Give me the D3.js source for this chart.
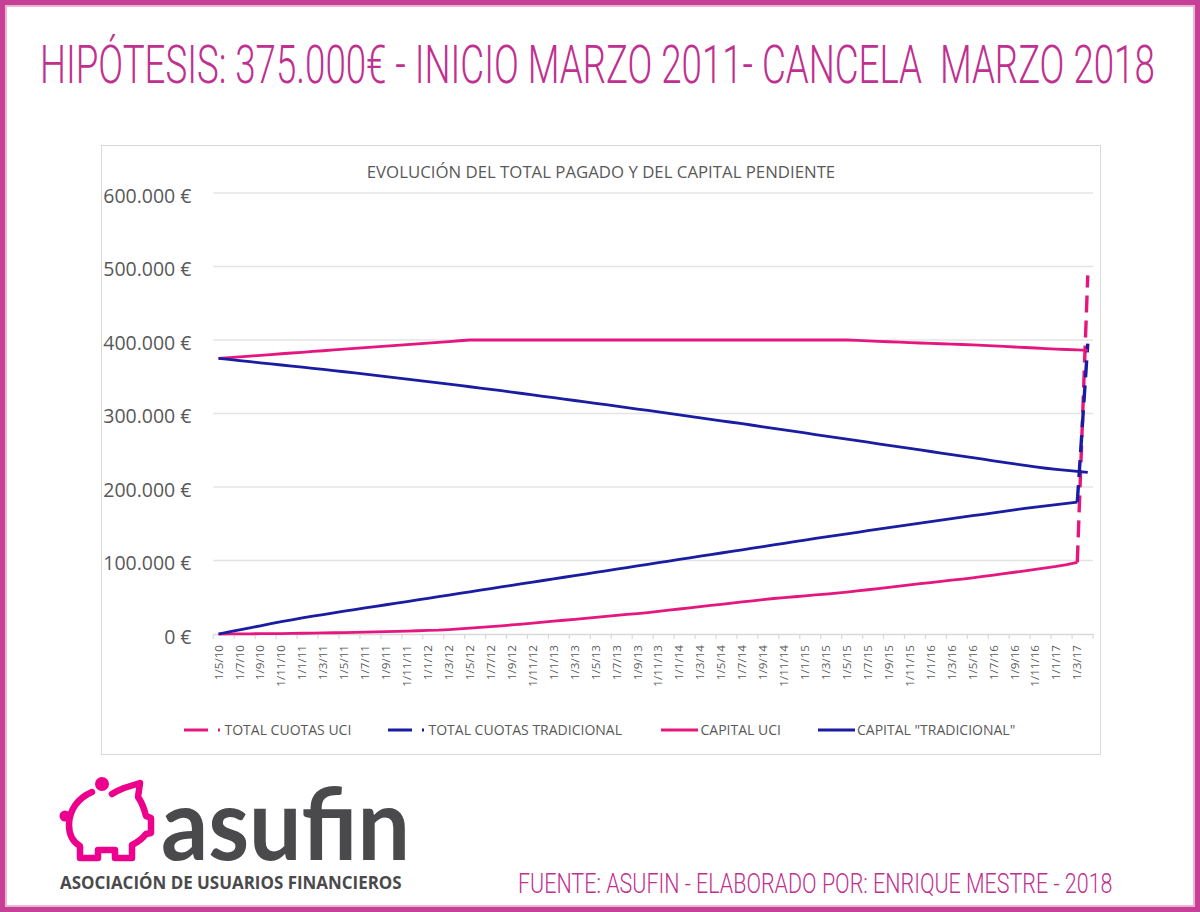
<!DOCTYPE html>
<html><head><meta charset="utf-8">
<script src="https://cdn.jsdelivr.net/npm/d3@7"></script>
<style>body{margin:0;background:#fff}svg{display:block}</style>
</head><body>
<svg id="c" width="1200" height="912"></svg>
<script>
const categories = ["1/5/10","1/6/10","1/7/10","1/8/10","1/9/10","1/10/10","1/11/10","1/12/10",
"1/1/11","1/2/11","1/3/11","1/4/11","1/5/11","1/6/11","1/7/11","1/8/11","1/9/11","1/10/11","1/11/11","1/12/11",
"1/1/12","1/2/12","1/3/12","1/4/12","1/5/12","1/6/12","1/7/12","1/8/12","1/9/12","1/10/12","1/11/12","1/12/12",
"1/1/13","1/2/13","1/3/13","1/4/13","1/5/13","1/6/13","1/7/13","1/8/13","1/9/13","1/10/13","1/11/13","1/12/13",
"1/1/14","1/2/14","1/3/14","1/4/14","1/5/14","1/6/14","1/7/14","1/8/14","1/9/14","1/10/14","1/11/14","1/12/14",
"1/1/15","1/2/15","1/3/15","1/4/15","1/5/15","1/6/15","1/7/15","1/8/15","1/9/15","1/10/15","1/11/15","1/12/15",
"1/1/16","1/2/16","1/3/16","1/4/16","1/5/16","1/6/16","1/7/16","1/8/16","1/9/16","1/10/16","1/11/16","1/12/16",
"1/1/17","1/2/17","1/3/17","1/4/17"];

// values in thousands of euros
const totalCuotasUCI = [0,0.1,0.2,0.3,0.4,0.5,0.6,0.8,1.0,1.2,1.4,
1.7,2.0,2.3,2.6,2.9,3.2,3.6,4.0,4.4,4.8,
5.2,6.0,7.0,8.0,9.0,10.0,11.1,12.3,13.5,14.8,
16.1,17.4,18.7,20.0,21.3,22.6,24.0,25.3,26.6,27.8,
29.2,30.8,32.4,34.0,35.6,37.2,38.8,40.4,42.0,43.6,
45.2,46.8,48.3,49.5,50.7,51.9,53.1,54.3,55.5,57.0,
58.6,60.2,61.8,63.4,65.0,66.7,68.4,70.0,71.6,73.2,
74.8,76.5,78.3,80.2,82.1,84.0,86.0,88.0,90.0,92.0,
94.5,97.5,488.0];

const totalCuotasTradicional = [0,2.8,5.6,8.4,11.2,14.0,16.7,19.3,21.8,24.2,26.5,
28.8,31.0,33.2,35.4,37.6,39.8,42.0,44.2,46.4,48.6,
50.8,53.0,55.2,57.4,59.6,61.8,64.0,66.2,68.4,70.6,
72.8,75.0,77.2,79.4,81.6,83.8,86.0,88.2,90.4,92.6,
94.8,97.0,99.2,101.4,103.6,105.8,108.0,110.2,112.4,114.6,
116.8,119.0,121.2,123.4,125.6,127.8,130.0,132.1,134.2,136.3,
138.4,140.5,142.6,144.7,146.8,148.9,150.9,152.9,154.9,156.9,
158.9,160.9,162.9,164.9,166.9,168.9,170.8,172.7,174.4,176.1,
177.8,179.5,395.0];

const capitalUCI = [375.0,376.0,377.1,378.1,379.2,380.2,381.3,382.3,383.3,384.4,385.4,386.5,387.5,388.5,389.6,390.6,391.7,392.7,393.8,394.8,395.8,396.9,397.9,399.0,400.0,
400,400,400,400,400,400,400,400,400,400,400,400,400,400,400,400,400,400,400,400,400,400,400,400,400,400,400,400,400,400,400,400,400,400,400,400,
399.4,398.8,398.2,397.6,397.0,396.4,395.9,395.4,394.9,394.4,393.9,393.3,392.6,391.9,391.2,390.5,389.8,389.1,388.4,387.7,387.1,386.5,386.0];

const capitalTradicional = [375.0,373.5,372.0,370.5,369.0,367.5,366.0,364.5,363.0,361.5,360.0,
358.4,356.8,355.2,353.6,352.0,350.3,348.6,346.9,345.2,343.5,
341.8,340.0,338.2,336.4,334.6,332.8,331.0,329.1,327.2,325.3,
323.4,321.5,319.6,317.7,315.8,313.9,312.0,310.1,308.1,306.1,
304.1,302.1,300.1,298.1,296.1,294.1,292.1,290.1,288.1,286.1,
284.0,281.9,279.8,277.7,275.6,273.5,271.4,269.3,267.2,265.1,
263.0,260.9,258.8,256.7,254.6,252.5,250.4,248.3,246.2,244.1,
242.0,239.9,237.8,235.7,233.6,231.5,229.4,227.3,225.5,224.0,
222.6,221.3,219.8];

const yTicks = [0,100,200,300,400,500,600];
const yTickLabels = ["0 €","100.000 €","200.000 €","300.000 €","400.000 €","500.000 €","600.000 €"];
const seriesNames = ["TOTAL CUOTAS UCI","TOTAL CUOTAS TRADICIONAL","CAPITAL UCI","CAPITAL \"TRADICIONAL\""];
const mainTitle = "HIPÓTESIS: 375.000€ - INICIO MARZO 2011- CANCELA  MARZO 2018";
const chartTitle = "EVOLUCIÓN DEL TOTAL PAGADO Y DEL CAPITAL PENDIENTE";
const footer = "FUENTE: ASUFIN - ELABORADO POR: ENRIQUE MESTRE - 2018";

const PINK = "#E5177E", BLUE = "#1A1CA2", MAG = "#C0308F", GREY = "#595959";
const svg = d3.select("#c");

// page frame
svg.append("rect").attr("x",2.5).attr("y",2.5).attr("width",1195).attr("height",907)
  .attr("fill","none").attr("stroke","#C54096").attr("stroke-width",5);
svg.append("rect").attr("x",6).attr("y",6).attr("width",1188).attr("height",900)
  .attr("fill","none").attr("stroke","#EBB5D6").attr("stroke-width",2);

// text fitted horizontally to a target width
function fitText(str, x0, y0, width, family, size, weight, color){
  const t = svg.append("text").attr("x",0).attr("y",0).attr("fill",color)
    .style("font-family",family).style("font-size",size+"px").style("font-weight",weight)
    .style("white-space","pre").text(str);
  const w = t.node().getComputedTextLength();
  t.attr("transform",`translate(${x0},${y0}) scale(${width/w},1)`);
  return t;
}
const titleFont = "Roboto,'Open Sans',sans-serif";
fitText(mainTitle, 40, 83, 1115, titleFont, 53, 300, MAG);

// chart box
svg.append("rect").attr("x",101.5).attr("y",145.5).attr("width",999).attr("height",609)
  .attr("fill","#fff").attr("stroke","#D9D9D9").attr("stroke-width",1);

svg.append("text").attr("x",601).attr("y",178).attr("text-anchor","middle").attr("fill",GREY)
  .style("font-family","'Open Sans',sans-serif").style("font-size","16.8px").text(chartTitle);

const x = d3.scaleBand().domain(categories).range([213.3,1093]).padding(0);
const y = d3.scaleLinear().domain([0,600]).range([634,193]);
const cx = c => x(c) + x.bandwidth()/2;

// gridlines
svg.append("g").selectAll("line").data(yTicks.filter(v=>v>0)).join("line")
  .attr("x1",213.3).attr("x2",1093).attr("y1",d=>y(d)).attr("y2",d=>y(d))
  .attr("stroke","#E4E4E4").attr("stroke-width",1.3);

// y labels
svg.append("g").selectAll("text").data(yTicks).join("text")
  .attr("x",191.5).attr("y",d=>y(d)+9.5).attr("text-anchor","end").attr("fill",GREY)
  .style("font-family","'Open Sans',sans-serif").style("font-size","19.5px")
  .text((d,i)=>yTickLabels[i]);

// x axis
const xAxis = d3.axisBottom(x).tickValues(categories.filter((c,i)=>i%2===0)).tickSize(0).tickPadding(0);
const gx = svg.append("g").attr("transform","translate(0,634)").call(xAxis);
gx.select(".domain").attr("stroke","#D9D9D9").attr("stroke-width",1.3);
gx.selectAll("text").attr("transform","translate(0,11) rotate(-90)").attr("text-anchor","end")
  .attr("x",0).attr("y",0).attr("dy","0.35em").attr("fill",GREY)
  .style("font-family","'Open Sans',sans-serif").style("font-size","11.6px");
// tick marks at every second category boundary
const boundaries = categories.filter((c,i)=>i%2===0).map(c=>x(c)).concat([x.range()[1]]);
svg.append("g").selectAll("line").data(boundaries).join("line")
  .attr("x1",d=>d).attr("x2",d=>d).attr("y1",634).attr("y2",639)
  .attr("stroke","#D9D9D9").attr("stroke-width",1.2);

// lines
const line = d3.line().x(d=>cx(d[0])).y(d=>y(d[1]));
function drawSeries(vals, color, dashedLast, width){
  const pts = categories.map((c,i)=>[c,vals[i]]);
  if(dashedLast){
    svg.append("path").datum(pts.slice(0,pts.length-1)).attr("d",line)
      .attr("fill","none").attr("stroke",color).attr("stroke-width",width).attr("stroke-linejoin","round");
    svg.append("path").datum(pts.slice(pts.length-2)).attr("d",line)
      .attr("fill","none").attr("stroke",color).attr("stroke-width",width+0.6).attr("stroke-dasharray","17,8");
  } else {
    svg.append("path").datum(pts).attr("d",line)
      .attr("fill","none").attr("stroke",color).attr("stroke-width",width).attr("stroke-linejoin","round");
  }
}
drawSeries(totalCuotasUCI, PINK, true, 2.8);
drawSeries(totalCuotasTradicional, BLUE, true, 2.8);
drawSeries(capitalUCI, PINK, false, 2.8);
drawSeries(capitalTradicional, BLUE, false, 2.8);

// legend
const legend = [
  {name:seriesNames[0], color:PINK, dashed:true, x:184, tx:224.5},
  {name:seriesNames[1], color:BLUE, dashed:true, x:388, tx:428.5},
  {name:seriesNames[2], color:PINK, dashed:false, x:661, tx:700.5},
  {name:seriesNames[3], color:BLUE, dashed:false, x:818, tx:857}
];
const lg = svg.append("g").selectAll("g").data(legend).join("g");
lg.append("line").attr("x1",d=>d.x).attr("x2",d=>d.x+37).attr("y1",730).attr("y2",730)
  .attr("stroke",d=>d.color).attr("stroke-width",3)
  .attr("stroke-dasharray",d=>d.dashed?"24,10,2,20":null);
lg.append("text").attr("x",d=>d.tx).attr("y",735).attr("fill",GREY)
  .style("font-family","'Open Sans',sans-serif").style("font-size","14px").text(d=>d.name);

// logo
const LOGO = "#EC008C", DARK = "#4A4A4C";
const pig = svg.append("g").attr("fill","none").attr("stroke",LOGO).attr("stroke-width",6.5)
  .attr("stroke-linejoin","round").attr("stroke-linecap","round");
pig.append("path").attr("d","M92,792 C78,798 69,810 69,825 C69,835 73,842 80,846 L80,858 L98,858 L98,850 L115,850 L115,858 L132,858 L132,845 C138,842 143,838 146,834 L151,833 L151,818 L146,816 C144,808 141,801 138,797 L140,783 L124,788 C119,790 115,792 112,794");
svg.append("circle").attr("cx",102).attr("cy",784).attr("r",7).attr("fill",LOGO);
svg.append("circle").attr("cx",65).attr("cy",816).attr("r",5.5).attr("fill",LOGO);
fitText("asufin", 161, 860, 249, "Lato,'Open Sans',sans-serif", 100, 700, DARK);
fitText("ASOCIACIÓN DE USUARIOS FINANCIEROS", 60, 888.5, 342, "'Open Sans',sans-serif", 18, 700, DARK);

fitText(footer, 518, 893, 595, titleFont, 28, 300, MAG);
</script>
</body></html>
